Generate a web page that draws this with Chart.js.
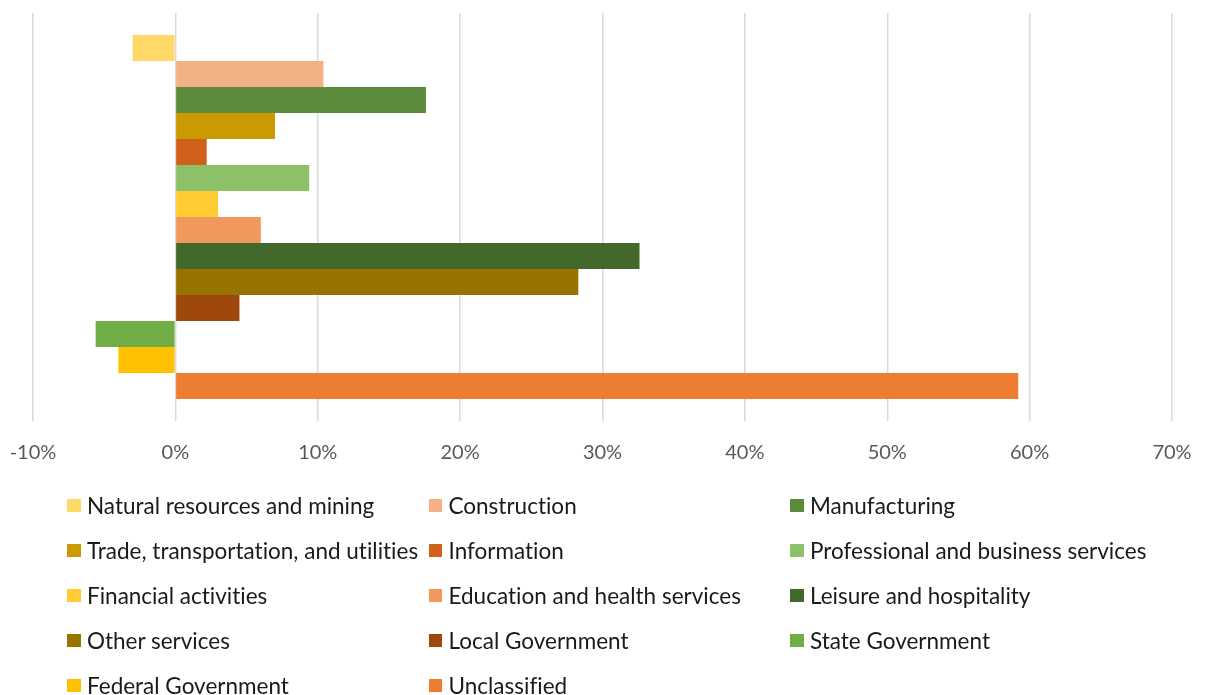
<!DOCTYPE html>
<html>
<head>
<meta charset="utf-8">
<title>Employment change by industry</title>
<script src="https://cdn.jsdelivr.net/npm/chart.js@4.4.1/dist/chart.umd.min.js"></script>
<style>
    body { margin: 0; background: #fff; overflow: hidden; }
    #wrap { position: relative; width: 1206px; height: 695px; overflow: hidden; }
    #box_chart { position: absolute; left: 0; top: 0; width: 1206px; height: 480px; }
    #div_legend { position: absolute; left: 0; top: 0; width: 1206px; height: 695px; pointer-events: none; }
    .lg-item { position: absolute; height: 45px; display: flex; align-items: center; white-space: nowrap;
               font-family: Lato, "Open Sans", sans-serif; font-size: 22.5px; color: #1a1a1a;
               font-variant-ligatures: none; }
    .lg-box { width: 13.5px; height: 13.5px; margin-right: 6.5px; flex: none; }
</style>
</head>
<body>
<div id="wrap">
    <div id="box_chart"><canvas id="industryChange"></canvas></div>
    <div id="div_legend"></div>
</div>
<script>
// one category, one bar per industry
var categories = [''];

var industryNames = [
    'Natural resources and mining',
    'Construction',
    'Manufacturing',
    'Trade, transportation, and utilities',
    'Information',
    'Professional and business services',
    'Financial activities',
    'Education and health services',
    'Leisure and hospitality',
    'Other services',
    'Local Government',
    'State Government',
    'Federal Government',
    'Unclassified'
];

// percent change
var industryValues = [-3.0, 10.4, 17.6, 7.0, 2.2, 9.4, 3.0, 6.0, 32.6, 28.3, 4.5, -5.6, -4.0, 59.2];

var industryColors = [
    '#FFD966', '#F4B183', '#5B8B3B', '#CB9900', '#D1601A', '#8DC168', '#FFCB33',
    '#F1995C', '#43682B', '#997300', '#9E480E', '#70AD47', '#FFC000', '#ED7D31'
];

var xTickValues = [-10, 0, 10, 20, 30, 40, 50, 60, 70];
var xTickLabels = ['-10%', '0%', '10%', '20%', '30%', '40%', '50%', '60%', '70%'];

var dataSets = [];
for (let index = 0; index < industryNames.length; index++) {
    dataSets.push({
        label: industryNames[index],
        data: [industryValues[index]],
        backgroundColor: industryColors[index],
        borderWidth: 0,
        barPercentage: 1,
        categoryPercentage: 0.892
    });
}

var ctx = document.getElementById('industryChange').getContext('2d');
var myBar = new Chart(ctx, {
    type: 'bar',
    data: {
        labels: categories,
        datasets: dataSets
    },
    options: {
        indexAxis: 'y',
        responsive: true,
        maintainAspectRatio: false,
        animation: false,
        layout: {
            padding: { left: 33, right: 34, top: 13, bottom: 0 }
        },
        plugins: {
            legend: { display: false },
            tooltip: { enabled: false }
        },
        scales: {
            x: {
                min: xTickValues[0],
                max: xTickValues[xTickValues.length - 1],
                afterBuildTicks: function (scale) {
                    scale.ticks = xTickValues.map(function (v) { return { value: v }; });
                },
                afterFit: function (scale) {
                    scale.height = 59;
                },
                ticks: {
                    padding: 0,
                    color: '#595959',
                    font: { family: 'Lato', size: 20 },
                    callback: function (value) {
                        var i = xTickValues.indexOf(value);
                        return i >= 0 ? xTickLabels[i] : '';
                    }
                },
                grid: {
                    color: '#d9d9d9',
                    lineWidth: 1.5,
                    // invisible tick marks keep the labels off the plot
                    drawTicks: true,
                    tickLength: 20,
                    tickColor: 'rgba(0,0,0,0)'
                },
                border: { display: false }
            },
            y: {
                display: false
            }
        }
    }
});

// legend in three fixed columns
var legendDiv = document.getElementById('div_legend');
for (let index = 0; index < dataSets.length; index++) {
    var col = index % 3;
    var row = Math.floor(index / 3);
    var item = document.createElement('div');
    item.className = 'lg-item';
    item.style.left = (67 + col * 361.5) + 'px';
    item.style.top = (483 + row * 45) + 'px';
    item.innerHTML = '<span class="lg-box" style="background:' + dataSets[index].backgroundColor + '"></span>' +
        '<span>' + dataSets[index].label + '</span>';
    legendDiv.appendChild(item);
}
</script>
</body>
</html>
